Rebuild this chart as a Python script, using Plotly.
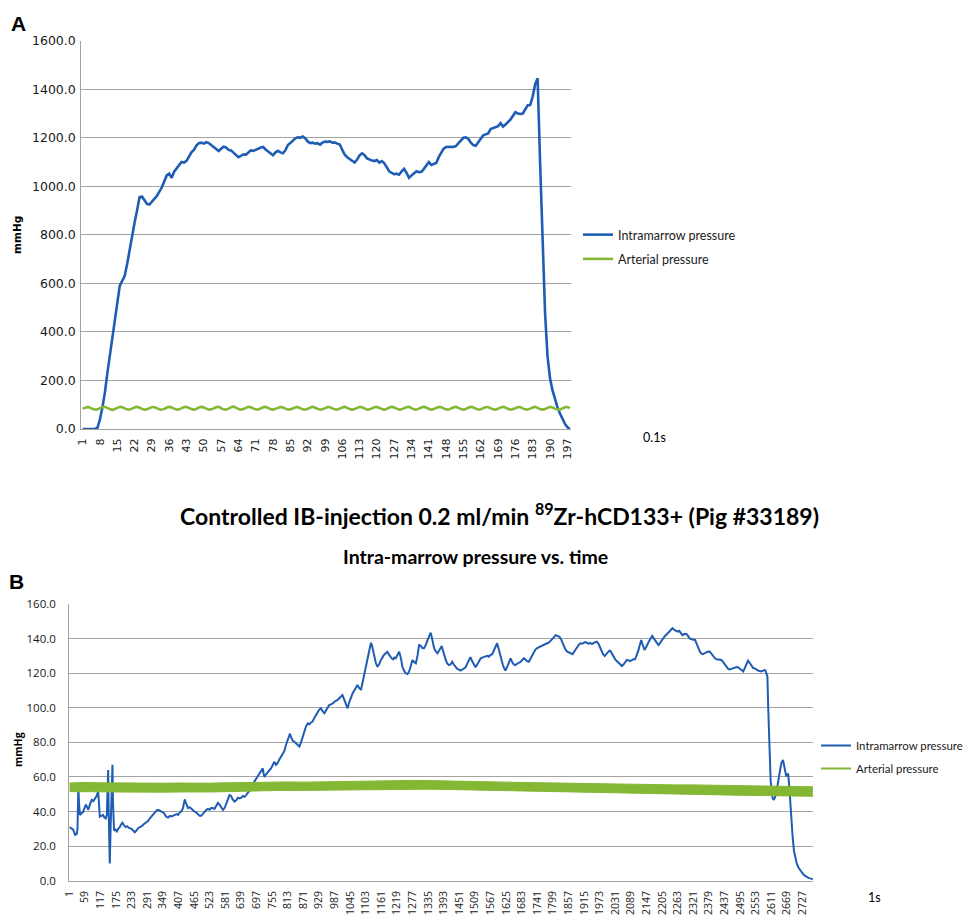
import plotly.graph_objects as go

# ---------------- Data: panel A (0.1 s samples) ----------------
top_samples = list(range(1, 199))
top_intramarrow = [
    0, 0, 0, 0, 0, 0, 5, 40, 90, 150,
    230, 300, 370, 430, 520, 590, 610, 630, 680, 740,
    800, 850, 900, 955, 958, 945, 928, 925, 935, 948,
    960, 975, 995, 1020, 1045, 1052, 1035, 1060, 1072, 1085,
    1100, 1098, 1105, 1122, 1140, 1150, 1168, 1178, 1180, 1176,
    1182, 1178, 1170, 1165, 1155, 1145, 1155, 1163, 1160, 1150,
    1148, 1140, 1128, 1120, 1125, 1132, 1130, 1140, 1148, 1146,
    1152, 1155, 1160, 1162, 1152, 1145, 1135, 1128, 1140, 1146,
    1140, 1136, 1148, 1170, 1178, 1190, 1198, 1202, 1200, 1205,
    1198, 1185, 1178, 1180, 1176, 1178, 1172, 1180, 1184, 1183,
    1185, 1180, 1180, 1176, 1172, 1150, 1130, 1120, 1112, 1105,
    1098, 1110, 1128, 1136, 1128, 1115, 1110, 1106, 1104, 1108,
    1098, 1104, 1095, 1078, 1062, 1055, 1050, 1052, 1048, 1062,
    1072, 1055, 1035, 1045, 1055, 1062, 1058, 1060, 1072, 1085,
    1100, 1088, 1092, 1096, 1120, 1140, 1155, 1162, 1164, 1163,
    1162, 1166, 1178, 1190, 1200, 1202, 1195, 1180, 1170, 1167,
    1180, 1198, 1210, 1214, 1218, 1236, 1240, 1245, 1248, 1260,
    1246, 1255, 1265, 1275, 1290, 1305, 1300, 1298, 1300, 1318,
    1334, 1335, 1370, 1420, 1445, 1100, 760, 480, 300, 210,
    160, 120, 90, 65, 42, 22, 8, 0,
]
top_arterial = [
    84, 88, 90, 88, 83, 80, 81, 86, 90, 91, 87, 82, 79, 82, 87, 91, 90, 85,
    81, 80, 84, 89, 91, 88, 83, 80, 81, 86, 90, 90, 86, 81, 80, 83, 88, 91,
    89, 84, 80, 81, 86, 90, 91, 87, 82, 80, 83, 88, 91, 89, 84, 80, 81, 85,
    90, 91, 86, 81, 80, 84, 89, 92, 88, 83, 80, 82, 87, 91, 90, 85, 81, 80,
    85, 89, 91, 87, 82, 80, 83, 87, 90, 89, 84, 80, 81, 85, 89, 90, 86, 81,
    80, 83, 88, 91, 88, 83, 80, 81, 86, 90, 90, 85, 81, 80, 84, 89, 91, 87,
    82, 80, 82, 87, 91, 89, 85, 80, 81, 85, 90, 90, 87, 82, 80, 83, 88, 91,
    89, 84, 80, 81, 86, 90, 91, 86, 81, 80, 84, 89, 91, 88, 83, 80, 82, 87,
    90, 90, 85, 81, 80, 85, 89, 91, 87, 82, 80, 83, 88, 91, 89, 84, 80, 81,
    86, 90, 90, 86, 81, 80, 84, 88, 91, 88, 83, 80, 82, 86, 90, 90, 85, 81,
    80, 84, 89, 91, 87, 82, 80, 82, 87, 91, 89, 84, 81, 80, 85, 89, 91, 86,
]
top_ticks = [1, 8, 15, 22, 29, 36, 43, 50, 57, 64, 71, 78, 85, 92, 99, 106,
             113, 120, 127, 134, 141, 148, 155, 162, 169, 176, 183, 190, 197]
top_tick_labels = [str(t) for t in top_ticks]

# ---------------- Data: panel B (1 s samples) ----------------
bottom_n_samples = 2765
# (sample, mmHg)
bottom_intramarrow_pts = [
    (1, 31), (8, 30), (15, 29.5), (22, 26.5), (28, 27), (31, 30), (34, 54), (37, 44), (40, 38), (46, 39),
    (51, 39.5), (57, 42), (62, 44), (67, 42.5), (71, 41), (77, 44), (84, 46.7), (90, 46), (96, 47.6), (102, 49),
    (108, 51.5), (111, 45), (114, 37), (120, 37.5), (126, 38), (131, 36.5), (136, 36), (140, 38), (143, 50), (145, 64),
    (147, 40), (149, 25), (151, 10), (154, 30), (157, 50), (159, 62), (161, 67), (163, 45), (165, 32), (167, 29),
    (172, 29.5), (177, 28.5), (182, 30), (188, 31), (193, 32.5), (198, 33.5), (204, 32), (210, 31), (216, 31.5), (222, 30.5),
    (232, 30), (238, 29), (244, 28), (250, 29), (257, 30.5), (263, 31), (270, 31.5), (276, 32.5), (287, 33.5), (293, 34.5),
    (300, 36), (306, 37), (312, 38), (318, 39.5), (325, 40.5), (331, 41), (337, 40.5), (343, 40), (349, 39.5), (355, 38.5),
    (361, 37), (368, 36.5), (374, 37.5), (380, 37.2), (386, 37.5), (393, 38), (400, 38.5), (405, 38), (411, 39.5), (417, 40),
    (423, 42), (427, 45), (430, 47), (434, 45), (438, 43), (442, 42), (448, 42.5), (454, 41.5), (460, 41), (466, 40),
    (472, 39.5), (478, 38.5), (485, 37.5), (491, 37.5), (497, 38.5), (503, 40), (510, 41), (516, 41.5), (522, 41), (528, 42),
    (534, 42), (540, 41.5), (546, 43), (553, 45), (559, 44), (565, 42.5), (572, 41), (578, 42), (584, 44), (590, 47),
    (596, 49.5), (602, 49), (608, 47), (615, 45.7), (621, 46.5), (627, 48), (633, 47.6), (640, 48), (646, 49), (652, 48.5),
    (658, 49.5), (664, 51), (670, 52), (677, 53.5), (683, 56), (689, 57.5), (695, 59), (701, 61), (708, 62.5), (714, 64),
    (720, 65), (723, 62), (726, 60), (732, 61.5), (738, 63), (745, 64), (751, 65), (757, 67), (763, 68.8), (769, 67),
    (775, 68), (781, 70), (787, 71.5), (794, 72.7), (800, 75), (806, 78.5), (812, 81), (818, 84), (821, 85), (825, 83),
    (831, 81), (837, 80.3), (843, 79.5), (849, 78.5), (856, 77.6), (862, 80), (868, 83), (874, 86), (880, 89), (887, 91),
    (893, 90.5), (899, 91.5), (905, 92), (911, 94), (916, 95.5), (920, 96.8), (926, 98), (931, 99), (936, 99.7), (942, 98),
    (949, 96.8), (955, 98.5), (961, 100), (967, 101.6), (973, 102), (980, 102.5), (986, 103.5), (992, 104), (998, 104.5), (1004, 105.5),
    (1010, 106.5), (1016, 107.4), (1022, 105), (1028, 102), (1035, 99.7), (1041, 103), (1047, 106), (1054, 108.4), (1060, 110), (1066, 112),
    (1072, 113.2), (1078, 111.5), (1085, 110.3), (1090, 114), (1095, 118), (1101, 122.8), (1106, 126), (1111, 130), (1116, 134), (1122, 137.6),
    (1126, 136), (1130, 132.5), (1134, 129.5), (1140, 126), (1146, 123.7), (1152, 125), (1157, 127), (1163, 129), (1168, 130), (1173, 131),
    (1178, 131.5), (1183, 132.4), (1188, 131), (1193, 129.5), (1199, 128.6), (1205, 128), (1209, 129), (1214, 128.6), (1220, 130), (1227, 132.4),
    (1233, 129), (1239, 123.7), (1245, 121.5), (1251, 120), (1258, 119.5), (1264, 121), (1270, 124), (1276, 127.6), (1282, 126.5), (1289, 125.7),
    (1295, 130), (1301, 136.3), (1307, 136), (1313, 134.5), (1319, 134.4), (1325, 136), (1331, 138.5), (1337, 141), (1344, 143.4), (1348, 141),
    (1352, 137.5), (1356, 135), (1360, 133.4), (1365, 132.5), (1369, 131.5), (1375, 133), (1380, 134.5), (1385, 135.7), (1390, 133), (1395, 130),
    (1400, 127.6), (1406, 125.5), (1412, 124.7), (1418, 125), (1424, 126.6), (1430, 125), (1437, 123.4), (1443, 122.5), (1449, 122), (1455, 121.5),
    (1461, 122), (1468, 122.5), (1474, 123.4), (1480, 125.5), (1486, 127.5), (1492, 129.2), (1498, 127), (1505, 124.5), (1511, 123.4), (1517, 125),
    (1524, 127), (1530, 128.6), (1536, 129), (1542, 129.5), (1548, 129.8), (1554, 130), (1560, 129.5), (1566, 130.5), (1573, 131), (1579, 133),
    (1585, 135), (1591, 137.3), (1596, 134.5), (1601, 131), (1607, 127.6), (1612, 125), (1617, 123), (1622, 121.5), (1628, 123.5), (1634, 126.5),
    (1641, 128.6), (1647, 126.5), (1653, 125), (1659, 124.7), (1665, 125.5), (1671, 126), (1678, 126.5), (1684, 127.5), (1690, 128.6), (1696, 128),
    (1702, 127), (1709, 126.6), (1715, 128.5), (1721, 130.5), (1727, 132.4), (1733, 133.5), (1740, 134.5), (1746, 135), (1752, 135.3), (1758, 136),
    (1764, 136.5), (1770, 137), (1777, 137.3), (1783, 137.6), (1789, 138.5), (1795, 139.5), (1801, 140.5), (1808, 142), (1815, 141.5), (1823, 141),
    (1829, 139.5), (1835, 137), (1840, 135), (1845, 133.7), (1852, 132.5), (1858, 132), (1865, 131.5), (1872, 131), (1878, 132.5), (1884, 134),
    (1890, 135.5), (1895, 136.5), (1901, 137.3), (1907, 137), (1913, 137.5), (1919, 138), (1925, 137.6), (1931, 137), (1937, 137.5), (1944, 136.8),
    (1950, 137.5), (1956, 138), (1962, 138.2), (1968, 137), (1974, 134.5), (1980, 132), (1985, 131), (1991, 129.9), (1997, 131), (2003, 132),
    (2008, 133), (2012, 133), (2018, 131), (2024, 129.5), (2030, 128), (2036, 127), (2042, 126), (2048, 125), (2055, 124.1), (2061, 125),
    (2067, 126.5), (2073, 127.6), (2079, 127.5), (2085, 127), (2092, 127.5), (2098, 128), (2104, 128), (2110, 130), (2116, 133), (2121, 136),
    (2127, 139.2), (2131, 137), (2135, 134.5), (2139, 133.4), (2145, 135), (2150, 137), (2156, 138.5), (2162, 140), (2168, 141.5), (2174, 140),
    (2180, 138.5), (2186, 137), (2191, 136.3), (2197, 137.5), (2203, 139), (2209, 140.5), (2215, 141.5), (2222, 142.5), (2229, 143.5), (2236, 145),
    (2243, 146), (2250, 145), (2256, 144.5), (2262, 144), (2268, 144.5), (2274, 143), (2280, 142), (2286, 142.5), (2291, 142.8), (2296, 142.6),
    (2302, 141), (2308, 140), (2314, 139.6), (2320, 139.5), (2327, 139.2), (2333, 137), (2340, 134), (2345, 132.5), (2349, 131.5), (2355, 131),
    (2362, 131.5), (2368, 132), (2375, 132.5), (2382, 132.4), (2388, 131), (2394, 129.5), (2401, 128.6), (2407, 128), (2413, 127.8), (2419, 127.5),
    (2425, 127.6), (2431, 126.5), (2437, 125), (2444, 123.5), (2450, 122.5), (2456, 122.2), (2462, 122.5), (2468, 123), (2475, 123.5), (2481, 123.5),
    (2487, 123.4), (2493, 122.5), (2500, 121.5), (2506, 121), (2512, 123), (2518, 125.5), (2524, 127.2), (2530, 126), (2536, 124.5), (2543, 123),
    (2549, 122.8), (2555, 122), (2561, 121.5), (2568, 121.2), (2574, 121), (2580, 121.5), (2585, 121.8), (2589, 121.5), (2593, 120), (2596, 118),
    (2599, 100), (2601, 87), (2604, 72), (2608, 58), (2612, 52), (2615, 48), (2619, 46.7), (2624, 48), (2629, 51), (2633, 54),
    (2638, 59), (2643, 64), (2648, 68), (2654, 69.8), (2658, 67), (2662, 63), (2666, 60.4), (2670, 61), (2673, 62), (2677, 55),
    (2681, 45), (2685, 35), (2690, 25), (2695, 17), (2700, 13), (2705, 10), (2712, 7.5), (2720, 5.5), (2728, 4), (2736, 2.8),
    (2744, 2), (2751, 1.5), (2758, 1.2), (2765, 1),
]
# arterial pressure oscillates fast: drawn as its upper / lower envelope
bottom_arterial_samples = [1, 59, 117, 175, 233, 291, 349, 407, 465, 523, 581, 639, 697, 755, 813, 871,
                           929, 987, 1045, 1103, 1161, 1219, 1277, 1335, 1393, 1451, 1509, 1567, 1625,
                           1683, 1741, 1799, 1857, 1915, 1973, 2031, 2089, 2147, 2205, 2263, 2321, 2379,
                           2437, 2495, 2553, 2611, 2669, 2727, 2765]
bottom_arterial_high = [56.5, 56.8, 56.6, 56.5, 56.3, 56.2, 56.4, 56.5, 56.3, 56.4, 56.6, 56.8, 57.0, 57.0,
                        57.1, 57.0, 57.2, 57.3, 57.4, 57.6, 57.8, 58.0, 58.0, 57.9, 57.8, 57.6, 57.4, 57.2,
                        57.0, 56.8, 56.8, 56.6, 56.4, 56.2, 56.0, 55.8, 55.8, 55.6, 55.5, 55.4, 55.4, 55.2,
                        55.0, 54.8, 54.8, 54.6, 54.5, 54.4, 54.3]
bottom_arterial_low = [51.5, 51.6, 51.4, 51.3, 51.2, 51.0, 51.2, 51.3, 51.2, 51.3, 51.5, 51.8, 52.0, 52.1,
                       52.2, 52.1, 52.3, 52.4, 52.5, 52.7, 52.8, 53.0, 53.0, 52.9, 52.8, 52.6, 52.4, 52.2,
                       52.0, 51.8, 51.7, 51.5, 51.3, 51.0, 50.8, 50.6, 50.5, 50.3, 50.2, 50.0, 50.0, 49.8,
                       49.6, 49.4, 49.3, 49.1, 49.0, 48.9, 48.8]
bottom_ticks = [1, 59, 117, 175, 233, 291, 349, 407, 465, 523, 581, 639, 697, 755, 813, 871, 929, 987,
                1045, 1103, 1161, 1219, 1277, 1335, 1393, 1451, 1509, 1567, 1625, 1683, 1741, 1799, 1857,
                1915, 1973, 2031, 2089, 2147, 2205, 2263, 2321, 2379, 2437, 2495, 2553, 2611, 2669, 2727]
bottom_tick_labels = [str(t) for t in bottom_ticks]

series_names = ["Intramarrow pressure", "Arterial pressure"]

# ---------------- Styling ----------------
# the page body has an 8 px margin, so the figure is 8 px smaller and
# positions below are given in window pixels, then shifted by 8 px
OFF = 8
W, H = 967, 912
BLUE = "#1f5cb3"
GREEN = "#84b733"
GRID = "#a3a3a3"
TXT = "#1a1a1a"


def px_x(p):
    return (p - OFF) / W


def px_y(p):
    return 1 - (p - OFF) / H


b_x = [p[0] for p in bottom_intramarrow_pts]
b_y = [p[1] for p in bottom_intramarrow_pts]

fig = go.Figure()
# Panel A
fig.add_trace(go.Scatter(x=top_samples, y=top_intramarrow, mode="lines", name=series_names[0],
                         line=dict(color=BLUE, width=2.6), xaxis="x", yaxis="y", legend="legend",
                         legendgroup="a1"))
fig.add_trace(go.Scatter(x=top_samples, y=top_arterial, mode="lines", name=series_names[1],
                         line=dict(color=GREEN, width=2.6, shape="spline"), xaxis="x", yaxis="y",
                         legend="legend", legendgroup="a2"))
# Panel B
fig.add_trace(go.Scatter(x=b_x, y=b_y, mode="lines", name=series_names[0],
                         line=dict(color=BLUE, width=2), xaxis="x2", yaxis="y2", legend="legend2",
                         legendgroup="b1"))
fig.add_trace(go.Scatter(x=bottom_arterial_samples, y=bottom_arterial_high, mode="lines",
                         line=dict(color=GREEN, width=1), xaxis="x2", yaxis="y2", showlegend=False,
                         hoverinfo="skip", legend="legend2", legendgroup="b2"))
fig.add_trace(go.Scatter(x=bottom_arterial_samples, y=bottom_arterial_low, mode="lines",
                         line=dict(color=GREEN, width=1), fill="tonexty", fillcolor=GREEN,
                         xaxis="x2", yaxis="y2", showlegend=False, hoverinfo="skip",
                         legend="legend2", legendgroup="b2"))
fig.add_trace(go.Scatter(x=[None], y=[None], mode="lines", name=series_names[1],
                         line=dict(color=GREEN, width=2), xaxis="x2", yaxis="y2", legend="legend2",
                         legendgroup="b2"))

axis_common = dict(showline=True, linecolor=GRID, linewidth=1.3, zeroline=False, ticks="",
                   color=TXT, automargin=False)


def ann(text, x, y, size, family="Lato", angle=0, yanchor="middle"):
    return dict(text=text, x=px_x(x), y=px_y(y), xref="paper", yref="paper", showarrow=False,
                xanchor="center", yanchor=yanchor, textangle=angle,
                font=dict(family=family, size=size, color="#000"))


fig.update_layout(
    width=W, height=H,
    margin=dict(l=0, r=0, t=0, b=0, pad=0),
    paper_bgcolor="white", plot_bgcolor="white",
    font=dict(family="Lato", color=TXT),
    xaxis=dict(domain=[px_x(81.4), px_x(571)], anchor="y", range=[0.5, 198.5],
               tickvals=top_ticks, ticktext=top_tick_labels, tickangle=-90, showgrid=False,
               tickfont=dict(family="DejaVu Sans", size=11), ticklabelstandoff=4, **axis_common),
    yaxis=dict(domain=[px_y(429), px_y(40.7)], anchor="x", range=[0, 1600], dtick=200,
               tickformat=".1f", showgrid=True, gridcolor=GRID, gridwidth=1.3,
               tickfont=dict(family="DejaVu Sans", size=12.5), ticklabelstandoff=2, **axis_common),
    xaxis2=dict(domain=[px_x(69.3), px_x(813)], anchor="y2", range=[0.5, bottom_n_samples + 0.5],
                tickvals=bottom_ticks, ticktext=bottom_tick_labels, tickangle=-90, showgrid=False,
                tickfont=dict(family="Open Sans", size=10.5), ticklabelstandoff=5, **axis_common),
    yaxis2=dict(domain=[px_y(880.7), px_y(604)], anchor="x2", range=[0, 160], dtick=20,
                tickformat=".1f", showgrid=True, gridcolor=GRID, gridwidth=1.3,
                tickfont=dict(family="Open Sans", size=11.5), ticklabelstandoff=10, **axis_common),
    legend=dict(x=px_x(578), y=px_y(220), xanchor="left", yanchor="top",
                font=dict(family="Lato", size=12.5), bgcolor="rgba(0,0,0,0)", tracegroupgap=5,
                traceorder="grouped"),
    legend2=dict(x=px_x(816), y=px_y(731), xanchor="left", yanchor="top",
                 font=dict(family="Lato", size=11.4), bgcolor="rgba(0,0,0,0)", tracegroupgap=4,
                 traceorder="grouped"),
    annotations=[
        ann("<b>A</b>", 18, 10, 21, "Liberation Sans", yanchor="top"),
        ann("<b>mmHg</b>", 17, 235, 10.5, "DejaVu Sans", -90),
        ann("0.1s", 654, 437, 12.5),
        ann("<b>Controlled IB-injection 0.2 ml/min <sup>89</sup>Zr-hCD133+ (Pig #33189)</b>", 499, 514, 23),
        ann("<b>Intra-marrow pressure vs. time</b>", 475, 556, 19.5),
        ann("<b>B</b>", 16, 581, 21, "Liberation Sans"),
        ann("<b>mmHg</b>", 18, 750, 10.5, "Open Sans", -90),
        ann("1s", 874, 897, 12.5),
    ],
)

fig.write_html("out.html")
